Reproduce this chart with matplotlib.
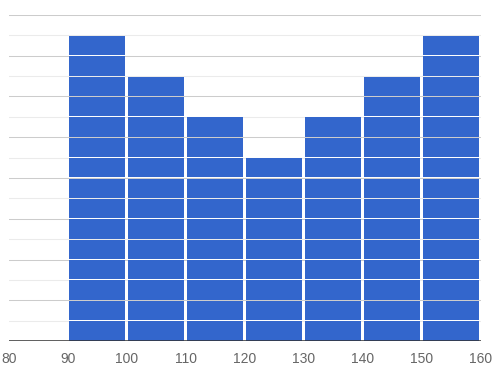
import matplotlib
matplotlib.use("Agg")
from matplotlib import pyplot as plt

bin_starts = [90, 100, 110, 120, 130, 140, 150]
counts = [15, 13, 11, 9, 11, 13, 15]
x_ticks = [80, 90, 100, 110, 120, 130, 140, 150, 160]

plt.rcParams['font.family'] = ['Liberation Sans', 'DejaVu Sans']

fig = plt.figure(figsize=(5, 3.72), dpi=100)
ax = fig.add_axes([0.018, 0.0833, 0.944, 0.8764])

# gridlines, major every 2, minor in between
for v in range(1, 17):
    col = '#cccccc' if v % 2 == 0 else '#ebebeb'
    ax.axhline(v, color=col, lw=0.75, zorder=0)

# each item is its own block, stacked up
gap = 0.05
for b, c in zip(bin_starts, counts):
    for k in range(c):
        ax.bar(b + 0.1, 1 - gap, bottom=k + gap / 2, width=9.55, align='edge',
               color='#3366cc', lw=0, zorder=2)

ax.axhline(0, color='#333333', lw=1.1, zorder=3)

ax.set_xlim(80, 160)
ax.set_ylim(0, 16)
ax.set_xticks(x_ticks)
ax.set_yticks([])
ax.tick_params(axis='x', length=0, pad=8, labelsize=10, labelcolor='#666666')
for s in ax.spines.values():
    s.set_visible(False)

fig.savefig('out.png', dpi=100)
